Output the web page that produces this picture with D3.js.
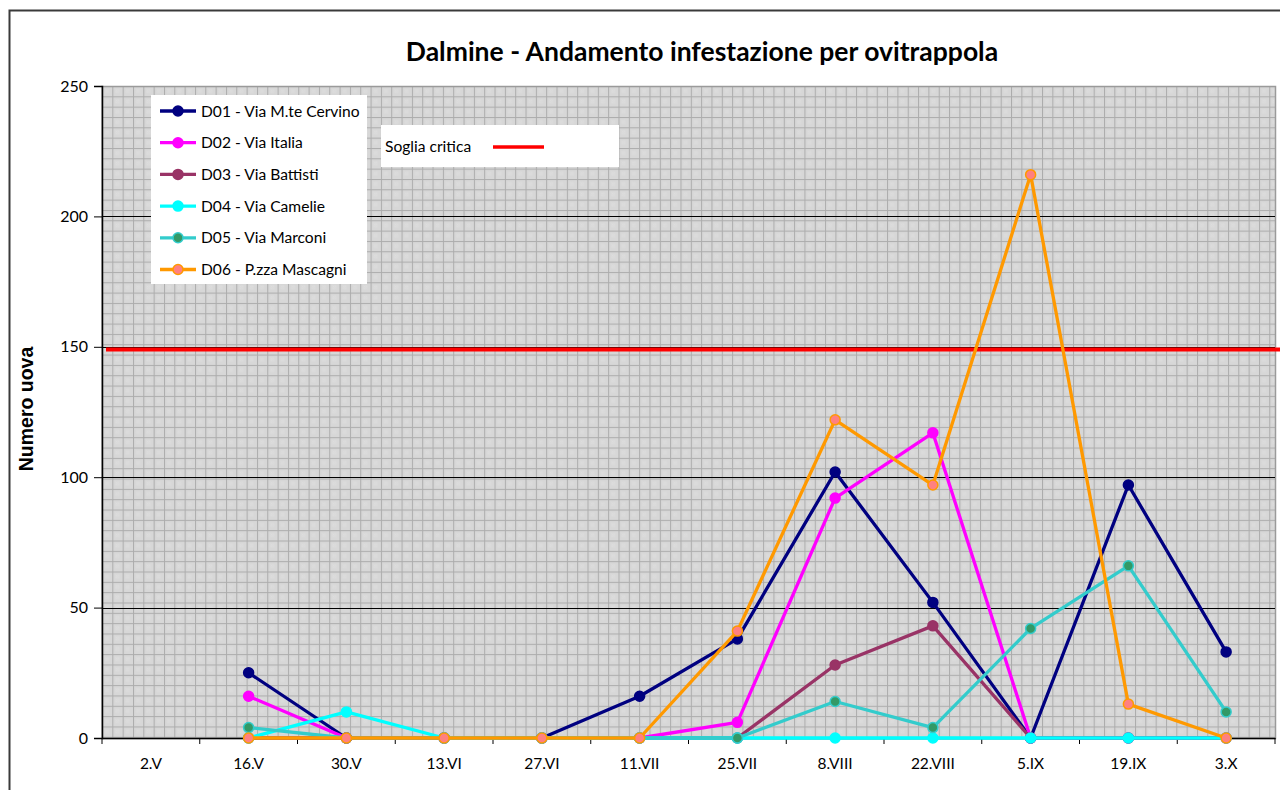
<!DOCTYPE html>
<html><head><meta charset="utf-8">
<script src="https://cdn.jsdelivr.net/npm/d3@7/dist/d3.min.js"></script>
<style>html,body{margin:0;padding:0;background:#fff;overflow:hidden}</style>
</head><body>
<svg id="c" width="1280" height="790"></svg>
<script>
const categories = ["2.V","16.V","30.V","13.VI","27.VI","11.VII","25.VII","8.VIII","22.VIII","5.IX","19.IX","3.X"];
const d01 = [null,25,0,0,0,16,38,102,52,0,97,33];
const d02 = [null,16,0,0,0,0,6,92,117,0,0,0];
const d03 = [null,0,0,0,0,0,0,28,43,0,0,0];
const d04 = [null,0,10,0,0,0,0,0,0,0,0,0];
const d05 = [null,4,0,0,0,0,0,14,4,42,66,10];
const d06 = [null,0,0,0,0,0,41,122,97,216,13,0];
const seriesNames = ["D01 - Via M.te Cervino","D02 - Via Italia","D03 - Via Battisti","D04 - Via Camelie","D05 - Via Marconi","D06 - P.zza Mascagni"];
const yTicks = [0,50,100,150,200,250];
const threshold = 149;
const thresholdLabel = "Soglia critica";
const title = "Dalmine - Andamento infestazione per ovitrappola";
const yLabel = "Numero uova";

const lineColors = ["#000080","#FF00FF","#993366","#00FFFF","#33CCCC","#FF9900"];
const markerColors = ["#000080","#FF00FF","#993366","#00FFFF","#339966","#FF8080"];
const seriesData = [d01,d02,d03,d04,d05,d06];

const svg = d3.select("#c");
const L=102, T=86, R=1275, B=738;
const x = d3.scaleBand().domain(categories).range([L,R]);
const y = d3.scaleLinear().domain([0,250]).range([B,T]);

// outer frame
svg.append("rect").attr("x",9.5).attr("y",10.5).attr("width",1300).attr("height",800)
  .attr("fill","#fff").attr("stroke","#3a3a3a").attr("stroke-width",2);

// pattern
const defs = svg.append("defs");
const cell = 10.33;
const pat = defs.append("pattern").attr("id","grid").attr("patternUnits","userSpaceOnUse")
  .attr("x",L).attr("y",T).attr("width",cell).attr("height",cell);
pat.append("rect").attr("width",cell).attr("height",cell).attr("fill","#d7d7d7");
const chk = defs.append("pattern").attr("id","chk").attr("patternUnits","userSpaceOnUse")
  .attr("width",2).attr("height",2);
chk.append("rect").attr("width",1).attr("height",1).attr("fill","#e4e4e4");
chk.append("rect").attr("x",1).attr("y",1).attr("width",1).attr("height",1).attr("fill","#e4e4e4");
pat.append("rect").attr("x",3).attr("y",3).attr("width",4).attr("height",4).attr("fill","url(#chk)").attr("opacity",0.6);
pat.append("line").attr("x1",0).attr("x2",cell).attr("y1",0.5).attr("y2",0.5).attr("stroke","#acacac").attr("stroke-width",1);
pat.append("line").attr("y1",0).attr("y2",cell).attr("x1",0.5).attr("x2",0.5).attr("stroke","#acacac").attr("stroke-width",1);

svg.append("rect").attr("x",L).attr("y",T).attr("width",R-L).attr("height",B-T).attr("fill","url(#grid)");
svg.append("rect").attr("x",L).attr("y",T+0.5).attr("width",R-L+0.5).attr("height",B-T).attr("fill","none").attr("stroke","#9a9a9a").attr("stroke-width",1.5);

// major gridlines
svg.append("g").selectAll("line").data(yTicks.filter(d=>d>0&&d<250)).join("line")
  .attr("x1",L).attr("x2",R).attr("y1",d=>Math.round(y(d))+0.5).attr("y2",d=>Math.round(y(d))+0.5)
  .attr("stroke","#000").attr("stroke-width",1.2);

// axes
const fontTick = "Lato, 'Open Sans', sans-serif";
const yAxis = d3.axisLeft(y).tickValues(yTicks).tickSize(8).tickPadding(6);
const gy = svg.append("g").attr("transform",`translate(${L},0)`).call(yAxis);
gy.select(".domain").attr("stroke","#000").attr("stroke-width",1.5);
gy.selectAll(".tick line").attr("stroke","#000");
gy.selectAll("text").attr("font-family",fontTick).attr("font-size",16).attr("fill","#000");

const xAxis = d3.axisBottom(x).tickSize(0).tickPadding(20);
const gx = svg.append("g").attr("transform",`translate(0,${B})`).call(xAxis);
gx.select(".domain").attr("stroke","#000").attr("stroke-width",1.5);
gx.selectAll("text").attr("font-family",fontTick).attr("font-size",15.5).attr("fill","#000");
// boundary ticks
const bounds = categories.map(c=>x(c)).concat([R]);
svg.append("g").selectAll("line").data(bounds).join("line")
  .attr("x1",d=>d).attr("x2",d=>d).attr("y1",B).attr("y2",B+6).attr("stroke","#000").attr("stroke-width",1);

// threshold line
svg.append("line").attr("x1",L+4).attr("x2",1280).attr("y1",y(threshold)).attr("y2",y(threshold))
  .attr("stroke","#FF0000").attr("stroke-width",4);

// series
const cx = c => x(c)+x.bandwidth()/2;
seriesData.forEach((vals,i)=>{
  const pts = categories.map((c,j)=>({c,v:vals[j]})).filter(d=>d.v!==null);
  const line = d3.line().x(d=>cx(d.c)).y(d=>y(d.v));
  svg.append("path").datum(pts).attr("d",line).attr("fill","none")
    .attr("stroke",lineColors[i]).attr("stroke-width",3.3).attr("stroke-linejoin","round");
  svg.append("g").selectAll("circle").data(pts).join("circle")
    .attr("cx",d=>cx(d.c)).attr("cy",d=>y(d.v)).attr("r",5)
    .attr("fill",markerColors[i]).attr("stroke",lineColors[i]).attr("stroke-width",1.5);
});

// legend
const lg = svg.append("g");
lg.append("rect").attr("x",151).attr("y",95).attr("width",216).attr("height",189).attr("fill","#fff");
seriesNames.forEach((n,i)=>{
  const yy = 111 + i*31.7;
  lg.append("line").attr("x1",160).attr("x2",196).attr("y1",yy).attr("y2",yy).attr("stroke",lineColors[i]).attr("stroke-width",3.3);
  lg.append("circle").attr("cx",178).attr("cy",yy).attr("r",5).attr("fill",markerColors[i]).attr("stroke",lineColors[i]).attr("stroke-width",1.5);
  lg.append("text").attr("x",201).attr("y",yy+5.5).text(n).attr("font-family",fontTick).attr("font-size",15.6).attr("fill","#000");
});
// threshold legend
svg.append("rect").attr("x",381).attr("y",125).attr("width",238).attr("height",42).attr("fill","#fff");
svg.append("text").attr("x",385).attr("y",152).text(thresholdLabel).attr("font-family",fontTick).attr("font-size",15.6).attr("fill","#000");
svg.append("line").attr("x1",493).attr("x2",544).attr("y1",147).attr("y2",147).attr("stroke","#FF0000").attr("stroke-width",3.5);

// title
svg.append("text").attr("x",702).attr("y",61).attr("text-anchor","middle").text(title)
  .attr("font-family",fontTick).attr("font-weight","bold").attr("font-size",26.5).attr("fill","#000");
// y label
svg.append("text").attr("transform","translate(33,409) rotate(-90)").attr("text-anchor","middle").text(yLabel)
  .attr("font-family","'Liberation Sans', Arial, sans-serif").attr("font-weight","bold").attr("font-size",19.5).attr("fill","#000");
</script>
</body></html>
